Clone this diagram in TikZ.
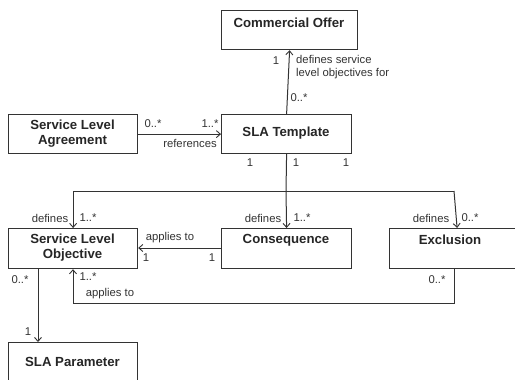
\documentclass[tikz,border=0pt]{standalone}
\usepackage{fontspec}
\setmainfont{Liberation Sans}
\usetikzlibrary{arrows.meta}
\definecolor{ln}{HTML}{333333}
\tikzset{
  box/.style={draw=ln, line width=1.2pt, fill=white, rectangle, inner sep=0pt, anchor=north west},
  ttl/.style={font=\fontsize{13.2}{15}\selectfont\bfseries, align=center, inner sep=0pt, text=black!85},
  lbl/.style={font=\fontsize{11.3}{12.5}\selectfont, inner sep=0pt, text=black!80},
  conn/.style={draw=ln, line width=1pt},
  arr/.style={conn, -{Straight Barb[length=4pt,width=7pt,line width=0.9pt]}}
}
\begin{document}
\begin{tikzpicture}[x=1pt,y=-1pt]
\useasboundingbox[fill=white] (0,0) rectangle (515,380);
% boxes
\node[box, minimum width=136pt, minimum height=39pt] (co) at (221,10) {};
\node[box, minimum width=130pt, minimum height=39pt] (tpl) at (221,114) {};
\node[box, minimum width=129pt, minimum height=39pt] (sla) at (8,114) {};
\node[box, minimum width=129pt, minimum height=40pt] (slo) at (8,228) {};
\node[box, minimum width=130pt, minimum height=40pt] (cons) at (221,228) {};
\node[box, minimum width=135pt, minimum height=40pt] (excl) at (389,228) {};
\node[box, minimum width=129pt, minimum height=42pt] (par) at (8,342) {};
% titles
\node[ttl] (tco) at (289,23) {Commercial Offer};
\node[ttl] (ttpl) at (286,133.5) {SLA Template};
\node[ttl] (tsla) at (72.5,133.5) {Service Level\\Agreement};
\node[ttl] (tslo) at (72.5,248) {Service Level\\Objective};
\node[ttl] (tcons) at (286,240) {Consequence};
\node[ttl] (texcl) at (450,240) {Exclusion};
\node[ttl] (tpar) at (72.5,362) {SLA Parameter};
% coordinates
\coordinate (tb) at (286,191);
\coordinate (lft) at (73,191);
\coordinate (rgt) at (454,191);
\coordinate (b1) at (454,303);
\coordinate (b2) at (73,303);
% connectors
\draw[arr] (tpl.north) -- (co.south);
\draw[arr] (sla.east) -- (tpl.west);
\draw[conn] (tpl.south) -- (tb);
\draw[arr] (lft) -| (slo.north);
\draw[conn] (lft) -- (rgt);
\draw[arr] (tb) -- (cons.north);
\draw[arr] (rgt) -- (excl.north);
\draw[arr] (cons.west |- 0,248) -- (slo.east |- 0,248);
\draw[arr] (excl.south -| b1) -- (b1) -- (b2) -- (slo.south -| b2);
\draw[arr] (slo.south -| 38,0) -- (par.north -| 38,0);
% labels
\node[lbl] (l1) at (276,61) {1};
\node[lbl, align=left, anchor=west] (l2) at (296,67) {defines service\\level objectives for};
\node[lbl] (l3) at (299,98) {0..*};
\node[lbl] (l4) at (153,124) {0..*};
\node[lbl] (l5) at (210,124) {1..*};
\node[lbl] (l6) at (190,143) {references};
\node[lbl] (l7) at (250,163) {1};
\node[lbl] (l8) at (296,163) {1};
\node[lbl] (l9) at (346,163) {1};
\node[lbl] (l10) at (50,218) {defines};
\node[lbl] (l11) at (88,218) {1..*};
\node[lbl] (l12) at (263,218) {defines};
\node[lbl] (l13) at (302,218) {1..*};
\node[lbl] (l14) at (431,218) {defines};
\node[lbl] (l15) at (470,218) {0..*};
\node[lbl] (l16) at (170,238) {applies to};
\node[lbl] (l17) at (146,258) {1};
\node[lbl] (l18) at (212,258) {1};
\node[lbl] (l19) at (437,280) {0..*};
\node[lbl] (l20) at (88,277) {1..*};
\node[lbl] (l21) at (110,294) {applies to};
\node[lbl] (l22) at (20,280) {0..*};
\node[lbl] (l23) at (28,332) {1};
\end{tikzpicture}
\end{document}
